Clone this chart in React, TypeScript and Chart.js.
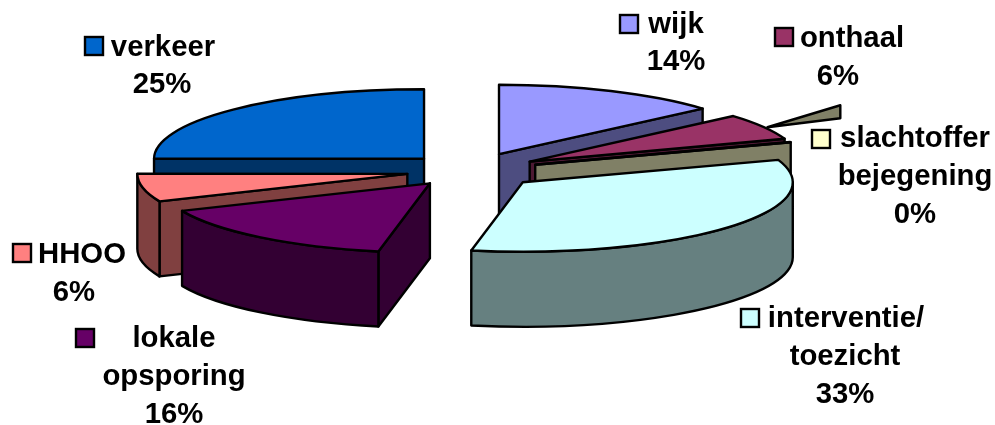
import React, { useEffect, useRef } from "react";
import { Chart, registerables } from "chart.js";

Chart.register(...registerables);

// Data, clockwise from twelve o'clock
const categories = ["wijk", "onthaal", "slachtoffer bejegening", "interventie/ toezicht", "lokale opsporing", "HHOO", "verkeer"];
const shares = [13.6, 6.06, 0.1, 33.3, 15.45, 6.5, 25];
const percentLabels = ["14%", "6%", "0%", "33%", "16%", "6%", "25%"];

// Styling
const topColors = ["#9999FF", "#993366", "#FFFFCC", "#CCFFFF", "#660066", "#FF8080", "#0066CC"];
const wallColors = ["#4D4D80", "#4D1933", "#808066", "#668080", "#330033", "#804040", "#003366"];
const explode = [70, 69, 69, 70, 64, 64, 65];
const paintOrder = [6, 0, 1, 2, 5, 3, 4];
const spikeIndex = 2;
const spikeReach = [[0.86, -0.54], [1.13, -0.857], [1.13, -0.67]];

const FLATTEN = 0.257;
const DEPTH = 75;
const RADIUS = 270;
const FONT = "bold 29.3px 'Liberation Sans', Arial, sans-serif";
const STROKE = 2.4;

// Label layout: key box (left, top) and text lines (text, x-centre, y-centre)
type Lbl = { index: number; key: [number, number]; lines: [string, number, number][] };
const labelLayout: Lbl[] = [
  { index: 6, key: [85, 37], lines: [["verkeer", 163, 48], [percentLabels[6], 162, 85]] },
  { index: 0, key: [620, 15], lines: [["wijk", 676, 25], [percentLabels[0], 676, 62]] },
  { index: 1, key: [775, 28], lines: [["onthaal", 852, 39], [percentLabels[1], 838, 77]] },
  { index: 2, key: [812, 130], lines: [["slachtoffer", 915, 139], ["bejegening", 915, 177], [percentLabels[2], 915, 215]] },
  { index: 3, key: [741, 309], lines: [["interventie/", 846, 319], ["toezicht", 845, 357], [percentLabels[3], 845, 395]] },
  { index: 5, key: [13, 244], lines: [["HHOO", 82, 255], [percentLabels[5], 74, 293]] },
  { index: 4, key: [76, 329], lines: [["lokale", 174, 339], ["opsporing", 174, 377], [percentLabels[4], 174, 415]] },
];

function paintSlice(ctx: CanvasRenderingContext2D, arc: any, i: number) {
  const a: number = arc.startAngle;
  const b: number = arc.endAngle;
  const r: number = arc.outerRadius;
  const mid = (a + b) / 2;
  const off: number = arc.options.offset || 0;
  const ax = arc.x + Math.cos(mid) * off;
  const ay = arc.y + Math.sin(mid) * off * FLATTEN;
  const rim = (t: number): [number, number] => [ax + Math.cos(t) * r, ay + Math.sin(t) * r * FLATTEN];

  ctx.strokeStyle = "#000";
  ctx.lineWidth = STROKE;
  ctx.lineJoin = "round";

  const face = (t: number) => {
    const [px, py] = rim(t);
    ctx.beginPath();
    ctx.moveTo(ax, ay);
    ctx.lineTo(px, py);
    ctx.lineTo(px, py + DEPTH);
    ctx.lineTo(ax, ay + DEPTH);
    ctx.closePath();
    ctx.fillStyle = wallColors[i];
    ctx.fill();
    ctx.stroke();
  };
  if (Math.sin(a - Math.PI / 2) > 0) face(a);
  if (Math.sin(b + Math.PI / 2) > 0) face(b);

  const lo = Math.max(a, 0);
  const hi = Math.min(b, Math.PI);
  if (lo < hi) {
    ctx.beginPath();
    ctx.ellipse(ax, ay, r, r * FLATTEN, 0, lo, hi);
    ctx.ellipse(ax, ay + DEPTH, r, r * FLATTEN, 0, hi, lo, true);
    ctx.closePath();
    ctx.fillStyle = wallColors[i];
    ctx.fill();
    ctx.stroke();
  }

  ctx.beginPath();
  ctx.moveTo(ax, ay);
  ctx.ellipse(ax, ay, r, r * FLATTEN, 0, a, b);
  ctx.closePath();
  ctx.fillStyle = topColors[i];
  ctx.fill();
  ctx.stroke();
}

function paintSpike(ctx: CanvasRenderingContext2D, arc: any, i: number) {
  const mid = (arc.startAngle + arc.endAngle) / 2;
  const off: number = arc.options.offset || 0;
  const r: number = arc.outerRadius;
  const ax = arc.x + Math.cos(mid) * off;
  const ay = arc.y + Math.sin(mid) * off * FLATTEN;
  ctx.beginPath();
  spikeReach.forEach(([u, v], n) => {
    const x = ax + u * r;
    const y = ay + v * r * FLATTEN;
    if (n === 0) ctx.moveTo(x, y);
    else ctx.lineTo(x, y);
  });
  ctx.closePath();
  ctx.fillStyle = wallColors[i];
  ctx.fill();
  ctx.strokeStyle = "#000";
  ctx.lineWidth = STROKE;
  ctx.stroke();
}

const extrudedPie = {
  id: "extrudedPie",
  beforeDatasetDraw(chart: any, args: any) {
    const ctx: CanvasRenderingContext2D = chart.ctx;
    const arcs = args.meta.data;
    ctx.save();
    paintOrder.forEach((i, n) => {
      if (n === 1) paintSpike(ctx, arcs[spikeIndex], spikeIndex);
      paintSlice(ctx, arcs[i], i);
    });
    ctx.restore();
    return false;
  },
  afterDraw(chart: any) {
    const ctx: CanvasRenderingContext2D = chart.ctx;
    ctx.save();
    ctx.font = FONT;
    ctx.textAlign = "center";
    ctx.textBaseline = "middle";
    labelLayout.forEach((l) => {
      ctx.fillStyle = topColors[l.index];
      ctx.strokeStyle = "#000";
      ctx.lineWidth = 2.4;
      ctx.fillRect(l.key[0], l.key[1], 18, 18);
      ctx.strokeRect(l.key[0], l.key[1], 18, 18);
      ctx.fillStyle = "#000";
      l.lines.forEach(([text, x, y]) => ctx.fillText(text, x, y));
    });
    ctx.restore();
  },
};

export default function App() {
  const ref = useRef<HTMLCanvasElement>(null);
  useEffect(() => {
    const chart = new Chart(ref.current as HTMLCanvasElement, {
      type: "pie",
      data: {
        labels: categories,
        datasets: [{ data: shares, backgroundColor: topColors, offset: explode, borderWidth: 0 } as any],
      },
      options: {
        animation: false,
        responsive: false,
        devicePixelRatio: 1,
        radius: RADIUS,
        layout: { padding: { right: 55, bottom: 84 } },
        plugins: { legend: { display: false }, tooltip: { enabled: false } },
      } as any,
      plugins: [extrudedPie],
    });
    return () => chart.destroy();
  }, []);
  return (
    <div style={{ position: "absolute", left: 0, top: 0, width: 995, height: 425, background: "#fff" }}>
      <canvas ref={ref} width={995} height={425} style={{ display: "block" }} />
    </div>
  );
}
